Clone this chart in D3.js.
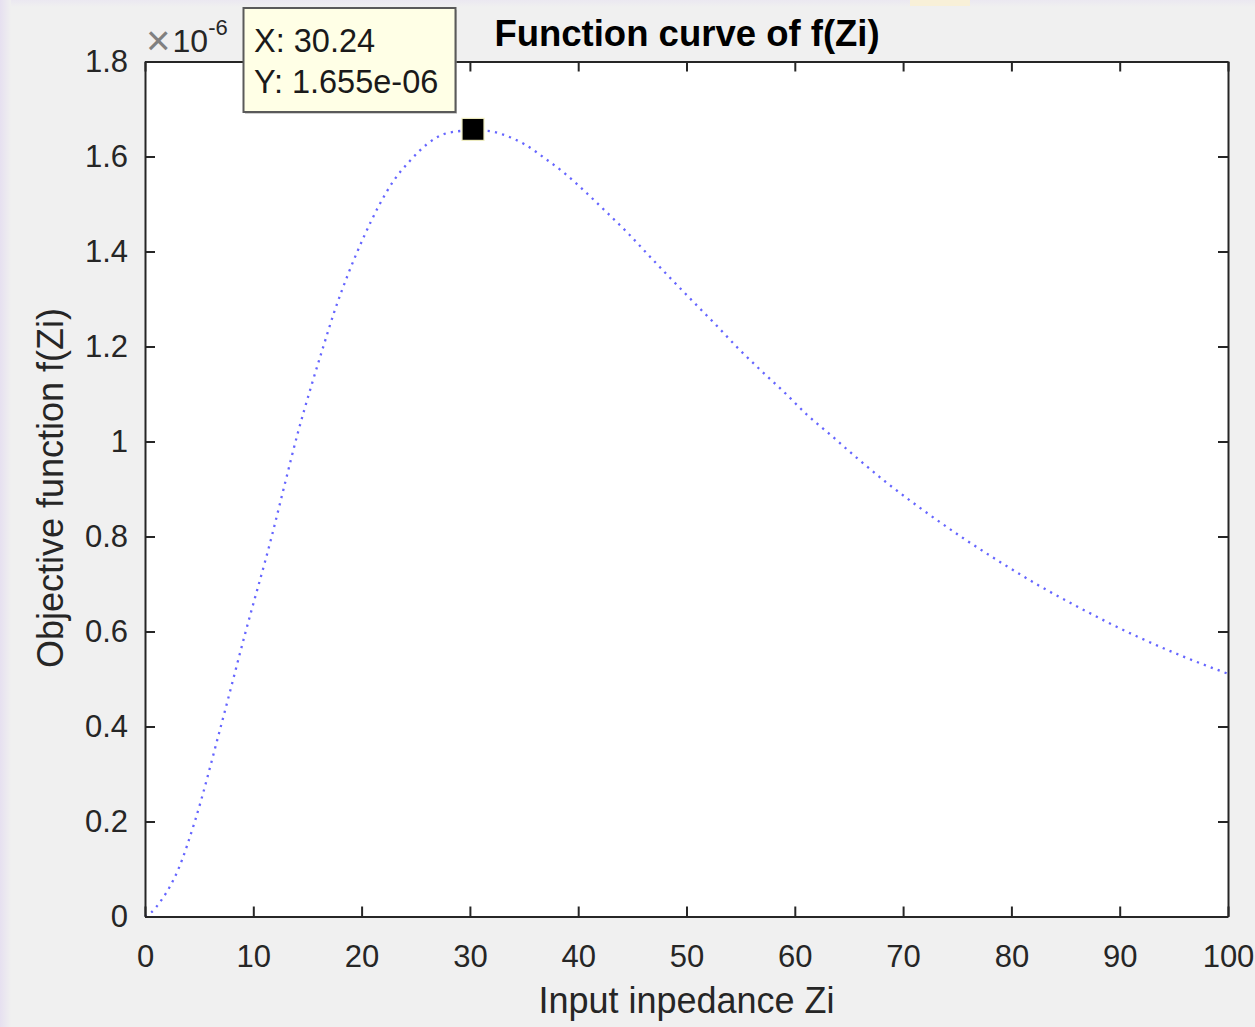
<!DOCTYPE html>
<html>
<head>
<meta charset="utf-8">
<script src="https://cdn.jsdelivr.net/npm/d3@7"></script>
<style>
  body { margin: 0; background: #f0f0f0; overflow: hidden; }
  text { font-family: "Liberation Sans", Arial, Helvetica, sans-serif; }
</style>
</head>
<body>
<script>
// values (f in units of 1e-6)
var zi = [0, 0.55, 1.53, 3.05, 4.6, 7.0, 9.3, 11.7, 12.85, 14.1, 15.33, 16.4, 17.54, 18.8,
  20.25, 21.54, 23.02, 24.47, 26.04, 28.04, 30.24, 31.6, 33.08, 35.1, 36.93, 38.68,
  40.87, 42.47, 44.53, 46.63, 48.63, 50.72, 52.74, 54.82, 56.9, 59.06, 61.14, 63.4,
  65.6, 68.5, 71.4, 75.65, 79.4, 82.6, 85.8, 89.1, 91.75, 95.9, 100];
var fz = [0, 0.008, 0.035, 0.098, 0.2, 0.4, 0.6, 0.8, 0.905, 1.017, 1.115, 1.195, 1.277, 1.355,
  1.433, 1.494, 1.551, 1.591, 1.626, 1.650, 1.655, 1.654, 1.646, 1.625, 1.596, 1.566,
  1.521, 1.486, 1.440, 1.389, 1.341, 1.292, 1.245, 1.195, 1.149, 1.103, 1.056, 1.012,
  0.968, 0.913, 0.863, 0.795, 0.740, 0.696, 0.656, 0.617, 0.588, 0.547, 0.511];
var tipX = [30.24];
var tipY = [1.655];
var xTicks = [0, 10, 20, 30, 40, 50, 60, 70, 80, 90, 100];
var yTicks = [0, 0.2, 0.4, 0.6, 0.8, 1, 1.2, 1.4, 1.6, 1.8];
var yTickLabels = ["0", "0.2", "0.4", "0.6", "0.8", "1", "1.2", "1.4", "1.6", "1.8"];

var W = 1255, H = 1027;
var pL = 145, pR = 1228, pT = 61.5, pB = 916.5;
var ink = "#262626";

var svg = d3.select("body").append("svg")
    .attr("width", W)
    .attr("height", H);

// screenshot edges
var defs = svg.append("defs");
var gl = defs.append("linearGradient").attr("id", "lg").attr("x1", 0).attr("x2", 1);
gl.append("stop").attr("offset", 0).attr("stop-color", "#e6e0f0");
gl.append("stop").attr("offset", 1).attr("stop-color", "#f0f0f0");
var gt = defs.append("linearGradient").attr("id", "tg").attr("x1", 0).attr("x2", 0).attr("y1", 0).attr("y2", 1);
gt.append("stop").attr("offset", 0).attr("stop-color", "#ebe8f1");
gt.append("stop").attr("offset", 1).attr("stop-color", "#f0f0f0");
svg.append("rect").attr("width", W).attr("height", H).attr("fill", "#f0f0f0");
svg.append("rect").attr("width", W).attr("height", 7).attr("fill", "url(#tg)");
svg.append("rect").attr("x", 910).attr("width", 60).attr("height", 6).attr("fill", "#f8f0d8");
svg.append("rect").attr("width", 11).attr("height", H).attr("fill", "url(#lg)");

var x = d3.scaleLinear().domain([0, 100]).range([pL, pR]);
var y = d3.scaleLinear().domain([0, 1.8]).range([pB, pT]);

svg.append("rect")
    .attr("x", pL).attr("y", pT)
    .attr("width", pR - pL).attr("height", pB - pT)
    .attr("fill", "#fff");

// curve
var line = d3.line()
    .x(function(d, i) { return x(zi[i]); })
    .y(function(d) { return y(d); })
    .curve(d3.curveMonotoneX);

svg.append("path")
    .datum(fz)
    .attr("d", line)
    .attr("fill", "none")
    .attr("stroke", "#4a4aff")
    .attr("stroke-opacity", 0.85)
    .attr("stroke-width", 2.3)
    .attr("stroke-dasharray", "2.2 5.2");

// axes, ticks pointing inward on all four sides
function styleAxis(g) {
  g.selectAll("path").attr("stroke", ink).attr("stroke-width", 2);
  g.selectAll("line").attr("stroke", ink).attr("stroke-width", 2);
  g.selectAll("text").attr("fill", ink).style("font-size", "31px")
      .style("font-family", "'Liberation Sans', Arial, sans-serif");
}

svg.append("g")
    .attr("transform", "translate(0," + pB + ")")
    .call(d3.axisBottom(x).tickValues(xTicks).tickSize(-10).tickSizeOuter(0).tickPadding(28)
      .tickFormat(d3.format("d")))
    .call(styleAxis);

svg.append("g")
    .attr("transform", "translate(0," + pT + ")")
    .call(d3.axisTop(x).tickValues(xTicks).tickSize(-10).tickSizeOuter(0).tickFormat(""))
    .call(styleAxis);

svg.append("g")
    .attr("transform", "translate(" + pL + ",0)")
    .call(d3.axisLeft(y).tickValues(yTicks).tickSize(-10).tickSizeOuter(0).tickPadding(17)
      .tickFormat(function(d, i) { return yTickLabels[i]; }))
    .call(styleAxis);

svg.append("g")
    .attr("transform", "translate(" + pR + ",0)")
    .call(d3.axisRight(y).tickValues(yTicks).tickSize(-10).tickSizeOuter(0).tickFormat(""))
    .call(styleAxis);

// exponent
var ex = svg.append("text").attr("x", 146).attr("y", 52).attr("fill", ink).style("font-size", "32px");
ex.append("tspan").attr("fill", "#808080").style("font-size", "42px").attr("dy", 3).text("\u00d7");
ex.append("tspan").attr("dy", -3).attr("dx", 2).text("10");
ex.append("tspan").attr("dy", -17).style("font-size", "22px").text("-6");

// title and labels
svg.append("text")
    .attr("x", 687).attr("y", 46)
    .attr("text-anchor", "middle")
    .attr("fill", "#000")
    .style("font-size", "36.5px").style("font-weight", "bold")
    .text("Function curve of f(Zi)");

svg.append("text")
    .attr("x", (pL + pR) / 2).attr("y", 1013)
    .attr("text-anchor", "middle")
    .attr("fill", ink)
    .style("font-size", "36px")
    .text("Input inpedance Zi");

svg.append("text")
    .attr("transform", "translate(63," + ((pT + pB) / 2 - 1) + ") rotate(-90)")
    .attr("text-anchor", "middle")
    .attr("fill", ink)
    .style("font-size", "36px")
    .text("Objective function f(Zi)");

// data tip marker
svg.selectAll("rect.tip")
    .data(tipX)
    .enter().append("rect")
    .attr("class", "tip")
    .attr("x", function(d) { return x(d) - 10.5; })
    .attr("y", function(d, i) { return y(tipY[i]) - 12; })
    .attr("width", 22).attr("height", 22)
    .attr("fill", "#000")
    .attr("stroke", "#efedc0").attr("stroke-width", 1.2);

// data tip box
var box = svg.append("g");
box.append("rect")
    .attr("x", 245).attr("y", 10)
    .attr("width", 212).attr("height", 104)
    .attr("fill", "#a0a0a0").attr("opacity", 0.5);
box.append("rect")
    .attr("x", 243.5).attr("y", 8)
    .attr("width", 212).attr("height", 104)
    .attr("fill", "#ffffe6")
    .attr("stroke", "#5a5a5a").attr("stroke-width", 2);
box.append("text").attr("x", 254).attr("y", 52).attr("fill", "#1a1a1a").style("font-size", "32.5px")
    .text("X: " + tipX[0]);
box.append("text").attr("x", 254).attr("y", 93).attr("fill", "#1a1a1a").style("font-size", "32.5px")
    .text("Y: " + tipY[0].toFixed(3) + "e-06");
</script>
</body>
</html>
